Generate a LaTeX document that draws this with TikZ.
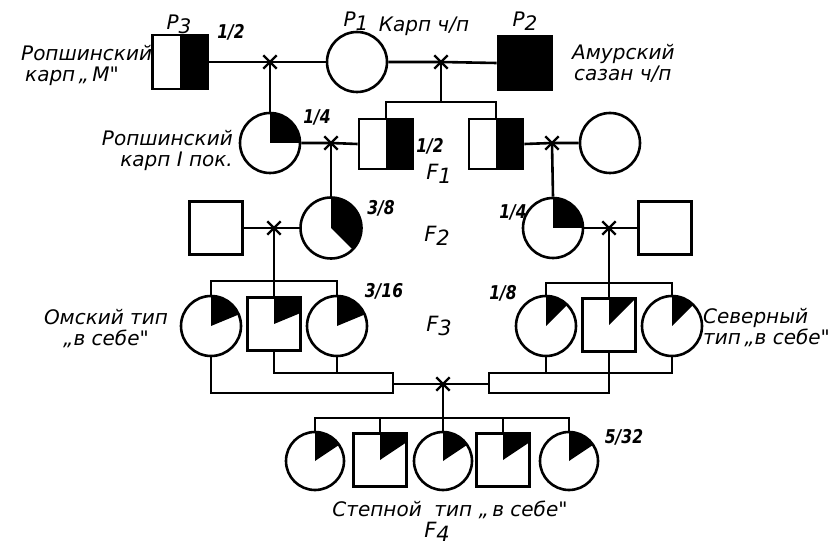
\documentclass[tikz,border=0pt]{standalone}
\usepackage{fontspec}
\setmainfont{DejaVu Sans}
\newfontfamily\labfont{DejaVu Sans}
\newfontfamily\numfont{DejaVu Sans}[FakeStretch=0.82]
\usetikzlibrary{shapes.misc}
\newcommand\gsub[2]{#1\raisebox{-4pt}{#2}}
\tikzset{
  fishc/.style={circle, draw, line width=2.6pt, minimum size=60pt, inner sep=0pt},
  fishs/.style={rectangle, draw, line width=2.6pt, minimum size=53pt, inner sep=0pt},
  part/.style={path picture={\fill[black] (path picture bounding box.center) -- ++(90:50pt)
      arc[start angle=90, delta angle=-360*#1, radius=50pt] -- cycle;}},
  xmark/.style={cross out, draw, line width=2.4pt, minimum size=11pt, inner sep=0pt},
  link/.style={line width=2.6pt},
  lab/.style={font=\labfont\itshape\fontsize{20}{21}\selectfont, inner sep=0pt},
  gen/.style={font=\labfont\itshape\fontsize{21}{21}\selectfont, inner sep=0pt},
  frac/.style={font=\numfont\bfseries\itshape\fontsize{19}{19}\selectfont, inner sep=0pt}
}
\begin{document}
\begin{tikzpicture}[x=1pt, y=-1pt]
\useasboundingbox (0,0) rectangle (839,548);
% ---- P generation
\node[fishs, minimum width=55pt, minimum height=54pt, part=0.5] (p3) at (180,62) {};
\node[xmark] (x1) at (270,62) {};
\node[fishc] (p1) at (357,62) {};
\node[xmark] (x2) at (441,62) {};
\node[fishs, minimum width=54pt, fill=black] (p2) at (525,63) {};
% ---- F1
\node[fishc, part=0.25] (r1) at (270,143) {};
\node[xmark] (x3) at (331,143) {};
\node[fishs, minimum width=54pt, minimum height=50pt, part=0.5] (f1a) at (386,144) {};
\node[fishs, minimum width=54pt, minimum height=50pt, part=0.5] (f1b) at (496,144) {};
\node[xmark] (x4) at (552,143) {};
\node[fishc] (c1) at (610,143) {};
% ---- F2
\node[fishs] (s2a) at (216,228) {};
\node[xmark] (x5) at (274,228) {};
\node[fishc, minimum size=61pt, part=0.375] (f2a) at (331,228) {};
\node[fishc, part=0.25] (f2b) at (553,228) {};
\node[xmark] (x6) at (609,228) {};
\node[fishs] (s2b) at (665,228) {};
% ---- F3
\node[fishc, part=0.1875] (f3a) at (211,326) {};
\node[fishs, part=0.1875] (f3b) at (274,324) {};
\node[fishc, part=0.1875] (f3c) at (337,326) {};
\node[fishc, part=0.125] (f3d) at (546,326) {};
\node[fishs, part=0.125] (f3e) at (609,325) {};
\node[fishc, part=0.125] (f3f) at (672,326) {};
\node[xmark] (x7) at (443,384) {};
% ---- F4
\node[fishc, minimum size=58pt, part=0.15625] (f4a) at (315,461) {};
\node[fishs, part=0.15625] (f4b) at (380,460) {};
\node[fishc, minimum size=58pt, part=0.15625] (f4c) at (443,461) {};
\node[fishs, part=0.15625] (f4d) at (503,460) {};
\node[fishc, minimum size=58pt, part=0.15625] (f4e) at (569,461) {};
% ---- helper coordinates
\coordinate (b1) at (441,102);
\coordinate (bL) at (274,281);
\coordinate (bR) at (609,283);
\coordinate (lb1) at (211,393);
\coordinate (lb2) at (393,393);
\coordinate (lb3) at (393,373);
\coordinate (kL) at (393,384);
\coordinate (rb1) at (489,373);
\coordinate (rb2) at (489,393);
\coordinate (rb3) at (609,393);
\coordinate (kR) at (489,384);
\coordinate (b4) at (443,418);
% ---- connectors
\draw[link] (p3.east) -- (x1.center) -- (p1.west);
\draw[link] (p1.east) -- (x2.center) -- (p2.west);
\draw[link] (x1.center) -- (r1.north);
\draw[link] (x2.center) -- (b1);
\draw[link] (f1a.north) -- (f1a.north |- b1) -- (f1b.north |- b1) -- (f1b.north);
\draw[link] (r1.east) -- (x3.center) -- (f1a.west);
\draw[link] (f1b.east) -- (x4.center) -- (c1.west);
\draw[link] (x3.center) -- (f2a.north);
\draw[link] (x4.center) -- (f2b.north);
\draw[link] (s2a.east) -- (x5.center) -- (f2a.west);
\draw[link] (f2b.east) -- (x6.center) -- (s2b.west);
\draw[link] (x5.center) -- (f3b.north);
\draw[link] (f3a.north) -- (f3a.north |- bL) -- (f3c.north |- bL) -- (f3c.north);
\draw[link] (x6.center) -- (f3e.north);
\draw[link] (f3d.north) -- (f3d.north |- bR) -- (f3f.north |- bR) -- (f3f.north);
\draw[link] (f3b.south) -- (f3b.south |- lb3) -- (lb3) -- (lb2) -- (lb1) -- (f3a.south);
\draw[link] (f3c.south) -- (f3c.south |- lb3);
\draw[link] (f3f.south) -- (f3f.south |- rb1) -- (rb1) -- (rb2) -- (rb3) -- (f3e.south);
\draw[link] (f3d.south) -- (f3d.south |- rb1);
\draw[link] (kL) -- (x7.center) -- (kR);
\draw[link] (x7.center) -- (f4c.north);
\draw[link] (f4a.north) -- (f4a.north |- b4) -- (f4e.north |- b4) -- (f4e.north);
\draw[link] (f4b.north) -- (f4b.north |- b4);
\draw[link] (f4d.north) -- (f4d.north |- b4);
% ---- labels
\node[lab] (tP3) at (179,24) {\gsub{P}{3}};
\node[lab] (tP1) at (356,21) {\gsub{P}{1}};
\node[lab] (tP2) at (525,21) {\gsub{P}{2}};
\node[frac] (q1) at (231,32) {1/2};
\node[lab] (tkarp) at (424,26) {Карп ч/п};
\node[lab, align=left, anchor=west] (tRM) at (21,65) {Ропшинский\\\hspace*{4pt}карп\,„\,М"};
\node[lab, align=left, anchor=west] (tAm) at (572,63) {Амурский\\\hspace*{2pt}сазан ч/п};
\node[frac] (q2) at (317,117) {1/4};
\node[lab, align=right, anchor=east] (tR1) at (233,150) {Ропшинский\\карп I пок.};
\node[frac] (q3) at (430,146) {1/2};
\node[gen] (g1) at (439,174) {\gsub{F}{1}};
\node[frac] (q4) at (381,208) {3/8};
\node[gen] (g2) at (437,236) {\gsub{F}{2}};
\node[frac] (q5) at (513,212) {1/4};
\node[frac] (q6) at (384,291) {3/16};
\node[frac] (q7) at (503,293) {1/8};
\node[gen] (g3) at (439,326) {\gsub{F}{3}};
\node[lab, align=center] (tOm) at (106,329) {Омский тип\\„в себе"};
\node[lab, align=left, anchor=west] (tSev) at (703,328) {Северный\\тип\,„в себе"};
\node[frac] (q8) at (624,437) {5/32};
\node[lab] (tSt) at (450,510) {Степной\ \ тип „\,в себе"};
\node[gen] (g4) at (437,532) {\gsub{F}{4}};
\end{tikzpicture}
\end{document}
